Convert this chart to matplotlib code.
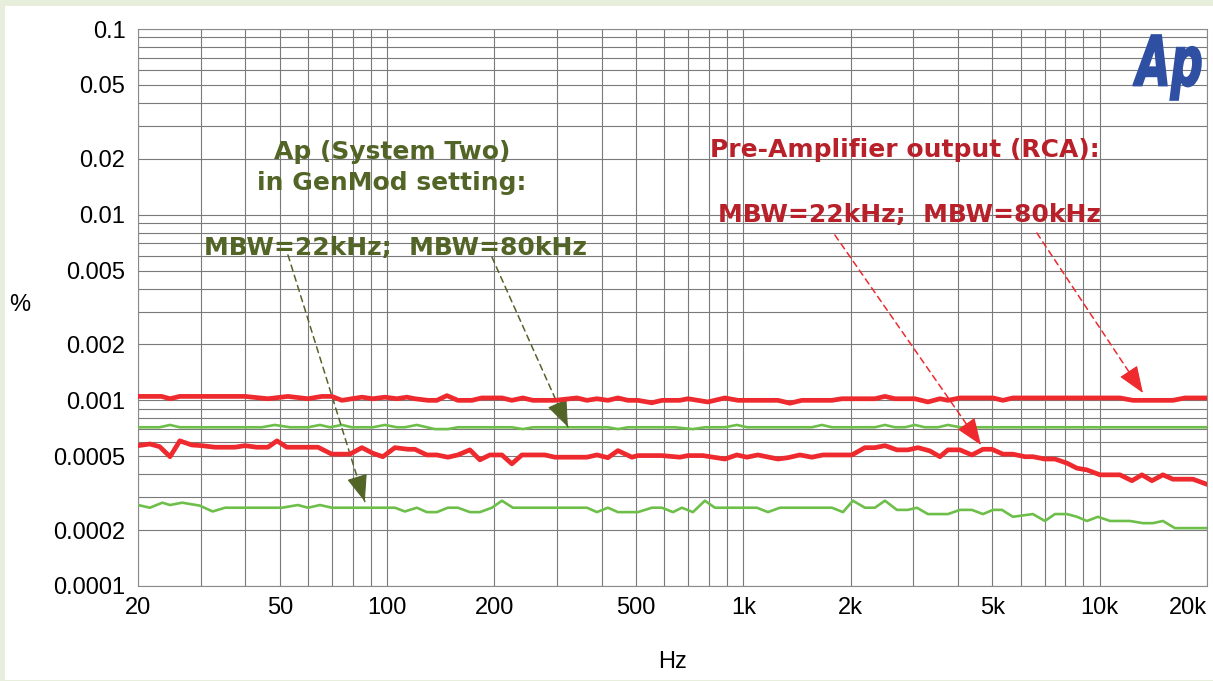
import matplotlib
matplotlib.use('Agg')
import matplotlib.pyplot as plt
import matplotlib.transforms as mtransforms
from matplotlib.ticker import FixedLocator, LogLocator, NullFormatter
from matplotlib.textpath import TextPath
from matplotlib.patches import PathPatch, Rectangle
from matplotlib.font_manager import FontProperties
import numpy as np

# ---- data (Hz, %) ----
r80_f = [20, 23.3, 24.6, 26.2, 39.9, 46.3, 52.7, 60, 65.6, 70, 74.7, 85, 91.2, 98.6, 106.5, 113.6,
         119.7, 130.2, 138, 147.2, 158, 173, 184.5, 210, 224, 240.5, 256.6, 295.8, 341, 363.8, 388.1,
         416.6, 444.5, 474.2, 505.8, 553.5, 590.6, 663.3, 698.6, 795, 887.4, 965.1, 1250, 1351, 1459,
         1772, 1890, 2339, 2496, 2662, 3029, 3295, 3561, 3750, 4052, 5015, 5350, 5705, 11394, 12395,
         16050, 17344, 20000]
r80_v = [0.00105, 0.00105, 0.00102, 0.00105, 0.00105, 0.00102, 0.00105, 0.00102, 0.00105, 0.00105,
         0.00100, 0.00104, 0.00102, 0.00104, 0.00102, 0.00104,
         0.00102, 0.00100, 0.00100, 0.00106, 0.00100, 0.00100, 0.00103, 0.00103, 0.00100, 0.00103,
         0.00100, 0.00100, 0.00103, 0.00100, 0.00102,
         0.00100, 0.00103, 0.00100, 0.00100, 0.00097, 0.00100, 0.00100, 0.00102, 0.00098, 0.00103,
         0.00100, 0.00100, 0.000965, 0.00100,
         0.00100, 0.00102, 0.00102, 0.00105, 0.00102, 0.00102, 0.00098, 0.00102, 0.00100, 0.00103,
         0.00103, 0.00100, 0.00103, 0.00103, 0.00100,
         0.00100, 0.00103, 0.00103]

g80_f = [20, 23, 24.6, 26.2, 44.5, 48.4, 53.4, 60, 64.8, 69.1, 74.7, 79.6, 91.2, 98.6, 106.5, 112.2,
         121.2, 136.2, 148.1, 158, 224, 240.5, 256.6, 416.6, 444.5, 474.2, 642.5, 721.6, 779.6, 887.4,
         958.9, 1023, 1557, 1661, 1772, 2339, 2496, 2662, 2840, 3029, 3231, 3515, 3750, 4052, 20000]
g80_v = [0.000716, 0.000716, 0.000737, 0.000716, 0.000716, 0.000737, 0.000716, 0.000716, 0.000737,
         0.000716, 0.000737, 0.000716, 0.000716, 0.000737, 0.000716, 0.000716,
         0.000737, 0.000700, 0.000700, 0.000716, 0.000716, 0.000700, 0.000716, 0.000716, 0.000700,
         0.000716, 0.000716, 0.000700, 0.000716, 0.000716,
         0.000737, 0.000716, 0.000716, 0.000737, 0.000716, 0.000716, 0.000737, 0.000716, 0.000716,
         0.000737, 0.000716, 0.000716, 0.000737, 0.000716, 0.000716]

r22_f = [20, 21.6, 23, 24.6, 26.2, 28.3, 30.2, 32.9, 37.4, 39.9, 43.1, 46.3, 49.1, 52.3, 64, 70, 78.6,
         85, 91.2, 97.3, 105.2, 114.4, 119.7, 129.3, 138, 148.1, 158, 170.8, 182.2, 194.3, 210, 224,
         239, 277.3, 295.8, 363.8, 388.1, 416.6, 444.5, 486.6, 505.8, 590.6, 663.3, 698.6, 769.6,
         887.4, 958.9, 1023, 1098, 1250, 1333, 1441, 1557, 1672, 2016, 2193, 2339, 2496, 2697, 2896,
         3089, 3338, 3561, 3750, 4052, 4378, 4701, 4983, 5350, 5705, 6168, 6493, 7018, 7486, 8091,
         8630, 9207, 10014, 11394, 12315, 13134, 14014, 15040, 16050, 18261, 20000]
r22_v = [0.000570, 0.000582, 0.000563, 0.000497, 0.000605, 0.000575, 0.000570, 0.000559, 0.000559,
         0.000570, 0.000559, 0.000559, 0.000605, 0.000559, 0.000559, 0.000513, 0.000513,
         0.000556, 0.000519, 0.000497, 0.000556, 0.000545, 0.000545, 0.000508, 0.000508, 0.000494,
         0.000508, 0.000541, 0.000478, 0.000508, 0.000508, 0.000455,
         0.000508, 0.000508, 0.000494, 0.000494, 0.000508, 0.000491, 0.000536, 0.000494, 0.000504,
         0.000504, 0.000494, 0.000504, 0.000504,
         0.000483, 0.000508, 0.000494, 0.000508, 0.000483, 0.000491, 0.000508, 0.000494, 0.000508,
         0.000508, 0.000556, 0.000556, 0.000570, 0.000541, 0.000541,
         0.000556, 0.000534, 0.000497, 0.000541, 0.000541, 0.000508, 0.000545, 0.000545, 0.000513,
         0.000513, 0.000497, 0.000497, 0.000483, 0.000483, 0.000459,
         0.000431, 0.000422, 0.000397, 0.000397, 0.000369, 0.000397, 0.000369, 0.000397, 0.000376,
         0.000376, 0.000353]

g22_f = [20, 21.6, 23.4, 24.6, 26.6, 29.8, 32.4, 35.1, 50.7, 56.2, 60, 64.8, 70, 105.2, 112.2, 121.2,
         129.3, 138, 148.1, 158, 170.8, 182.2, 196.9, 210, 225.5, 363.8, 388.1, 416.6, 444.5, 505.8,
         553.5, 590.6, 634.2, 672, 721.6, 779.6, 831.8, 1091, 1172, 1266, 1772, 1903, 2029, 2193, 2339,
         2496, 2697, 2896, 3069, 3295, 3750, 4052, 4378, 4701, 5015, 5316, 5705, 6493, 7018, 7486,
         8091, 8630, 9207, 9885, 10682, 12157, 13219, 14104, 15040, 16255, 20000]
g22_v = [0.000273, 0.000264, 0.000281, 0.000273, 0.000281, 0.000271, 0.000252, 0.000264, 0.000264,
         0.000273, 0.000264, 0.000273, 0.000264, 0.000264, 0.000252, 0.000264,
         0.000250, 0.000250, 0.000264, 0.000264, 0.000250, 0.000250, 0.000264, 0.000288, 0.000264,
         0.000264, 0.000250, 0.000264, 0.000250, 0.000250,
         0.000264, 0.000264, 0.000250, 0.000264, 0.000250, 0.000288, 0.000264, 0.000264, 0.000250,
         0.000264, 0.000264, 0.000250, 0.000288, 0.000264, 0.000264,
         0.000288, 0.000257, 0.000257, 0.000264, 0.000244, 0.000244, 0.000257, 0.000257, 0.000244,
         0.000257, 0.000257, 0.000236, 0.000244, 0.000224, 0.000244,
         0.000244, 0.000236, 0.000224, 0.000236, 0.000224, 0.000224, 0.000218, 0.000218, 0.000224,
         0.000205, 0.000205]

x_ticks = [20, 50, 100, 200, 500, 1000, 2000, 5000, 10000, 20000]
x_labels = ['20', '50', '100', '200', '500', '1k', '2k', '5k', '10k', '20k']
y_ticks = [0.1, 0.05, 0.02, 0.01, 0.005, 0.002, 0.001, 0.0005, 0.0002, 0.0001]
y_labels = ['0.1', '0.05', '0.02', '0.01', '0.005', '0.002', '0.001', '0.0005', '0.0002', '0.0001']

RED = '#ee2a2e'
GREEN = '#6dbf4a'
RED_TXT = '#b8202a'
GREEN_TXT = '#526527'

W, H = 1213, 681
fig = plt.figure(figsize=(W / 100, H / 100), dpi=100, facecolor='#e8eedc')


def px(x, y):
    # pixel position (from top-left) -> figure fraction
    return x / W, 1 - y / H


# white panel inside the light green frame
fig.add_artist(Rectangle(px(5, 680), 1 - 5 / W, (680 - 6) / H, transform=fig.transFigure,
                         facecolor='white', edgecolor='none', zorder=0))

x0, y0 = px(138, 586)
x1, y1 = px(1207, 29)
ax = fig.add_axes([x0, y0, x1 - x0, y1 - y0])
ax.set_facecolor('white')
ax.set_xscale('log')
ax.set_yscale('log')
ax.set_xlim(20, 20000)
ax.set_ylim(0.0001, 0.1)

ax.xaxis.set_major_locator(FixedLocator(x_ticks))
ax.set_xticklabels(x_labels)
ax.yaxis.set_major_locator(FixedLocator(y_ticks))
ax.set_yticklabels(y_labels)
for a in (ax.xaxis, ax.yaxis):
    a.set_minor_locator(LogLocator(base=10, subs=np.arange(1, 10), numticks=20))
    a.set_minor_formatter(NullFormatter())
ax.grid(which='both', color='#7a7a7a', lw=0.8)
ax.tick_params(which='both', length=0, labelsize=17)
ax.tick_params(axis='x', pad=8)
ax.tick_params(axis='y', pad=9)
for lab in ax.get_xticklabels() + ax.get_yticklabels():
    lab.set_fontfamily('Liberation Sans')
ax.get_xticklabels()[-1].set_horizontalalignment('right')
for s in ax.spines.values():
    s.set_color('#8a8a8a')
    s.set_linewidth(0.8)

ax.plot(g80_f, g80_v, color=GREEN, lw=1.9, zorder=3)
ax.plot(g22_f, g22_v, color=GREEN, lw=1.9, zorder=3)
ax.plot(r80_f, r80_v, color=RED, lw=3.4, zorder=4)
ax.plot(r22_f, r22_v, color=RED, lw=3.4, zorder=4)

fig.text(*px(20, 305), '%', ha='center', va='center', fontsize=17, family='Liberation Sans')
fig.text(*px(672, 662), 'Hz', ha='center', va='center', fontsize=17, family='Liberation Sans')

# annotation text
tkw = dict(ha='center', va='center', fontsize=18, fontweight='bold', family='DejaVu Sans')
fig.text(*px(392, 152), 'Ap (System Two)', color=GREEN_TXT, **tkw)
fig.text(*px(392, 183), 'in GenMod setting:', color=GREEN_TXT, **tkw)
fig.text(*px(396, 248), 'MBW=22kHz;  MBW=80kHz', color=GREEN_TXT, **tkw)
fig.text(*px(905, 150), 'Pre-Amplifier output (RCA):', color=RED_TXT, **tkw)
fig.text(*px(909, 215), 'MBW=22kHz;  MBW=80kHz', color=RED_TXT, **tkw)


def dashed_arrow(start, tip, color):
    # dashed shaft plus a solid narrow head
    ax.annotate('', xy=tip, xytext=start, arrowprops=dict(arrowstyle='-', color=color, lw=1.1,
                                                          linestyle=(0, (4, 3)), shrinkA=0, shrinkB=0))
    p0 = ax.transData.transform(start)
    p1 = ax.transData.transform(tip)
    d = (p0 - p1) / np.hypot(*(p0 - p1))
    off = d * 16 * 72 / fig.dpi
    ax.annotate('', xy=tip, xytext=(off[0], off[1]), textcoords='offset points',
                arrowprops=dict(arrowstyle='-|>,head_length=0.9,head_width=0.35', color=color, lw=0.8,
                                shrinkA=0, shrinkB=0, mutation_scale=19))


dashed_arrow((52.7, 0.00607), (86.6, 0.000285), GREEN_TXT)
dashed_arrow((196.9, 0.00591), (321.7, 0.000719), GREEN_TXT)
dashed_arrow((1806, 0.00777), (4642, 0.000575), RED)
dashed_arrow((6662, 0.00797), (13219, 0.001096), RED)

# Ap logo, squeezed into its box
tp = TextPath((0, 0), 'Ap', size=1, prop=FontProperties(family='DejaVu Sans', weight='bold', style='italic'))
ext = tp.get_extents()
lx0, ly0 = px(1133, 100)
lx1, ly1 = px(1201, 35)
tr = (mtransforms.Affine2D().translate(-ext.x0, -ext.y0)
      .scale((lx1 - lx0) / ext.width, (ly1 - ly0) / ext.height)
      .translate(lx0, ly0) + fig.transFigure)
fig.add_artist(PathPatch(tp, transform=tr, facecolor='#2f4fa3', edgecolor='#2f4fa3', lw=1.2, zorder=5))

fig.savefig('out.png', dpi=100, facecolor=fig.get_facecolor())
